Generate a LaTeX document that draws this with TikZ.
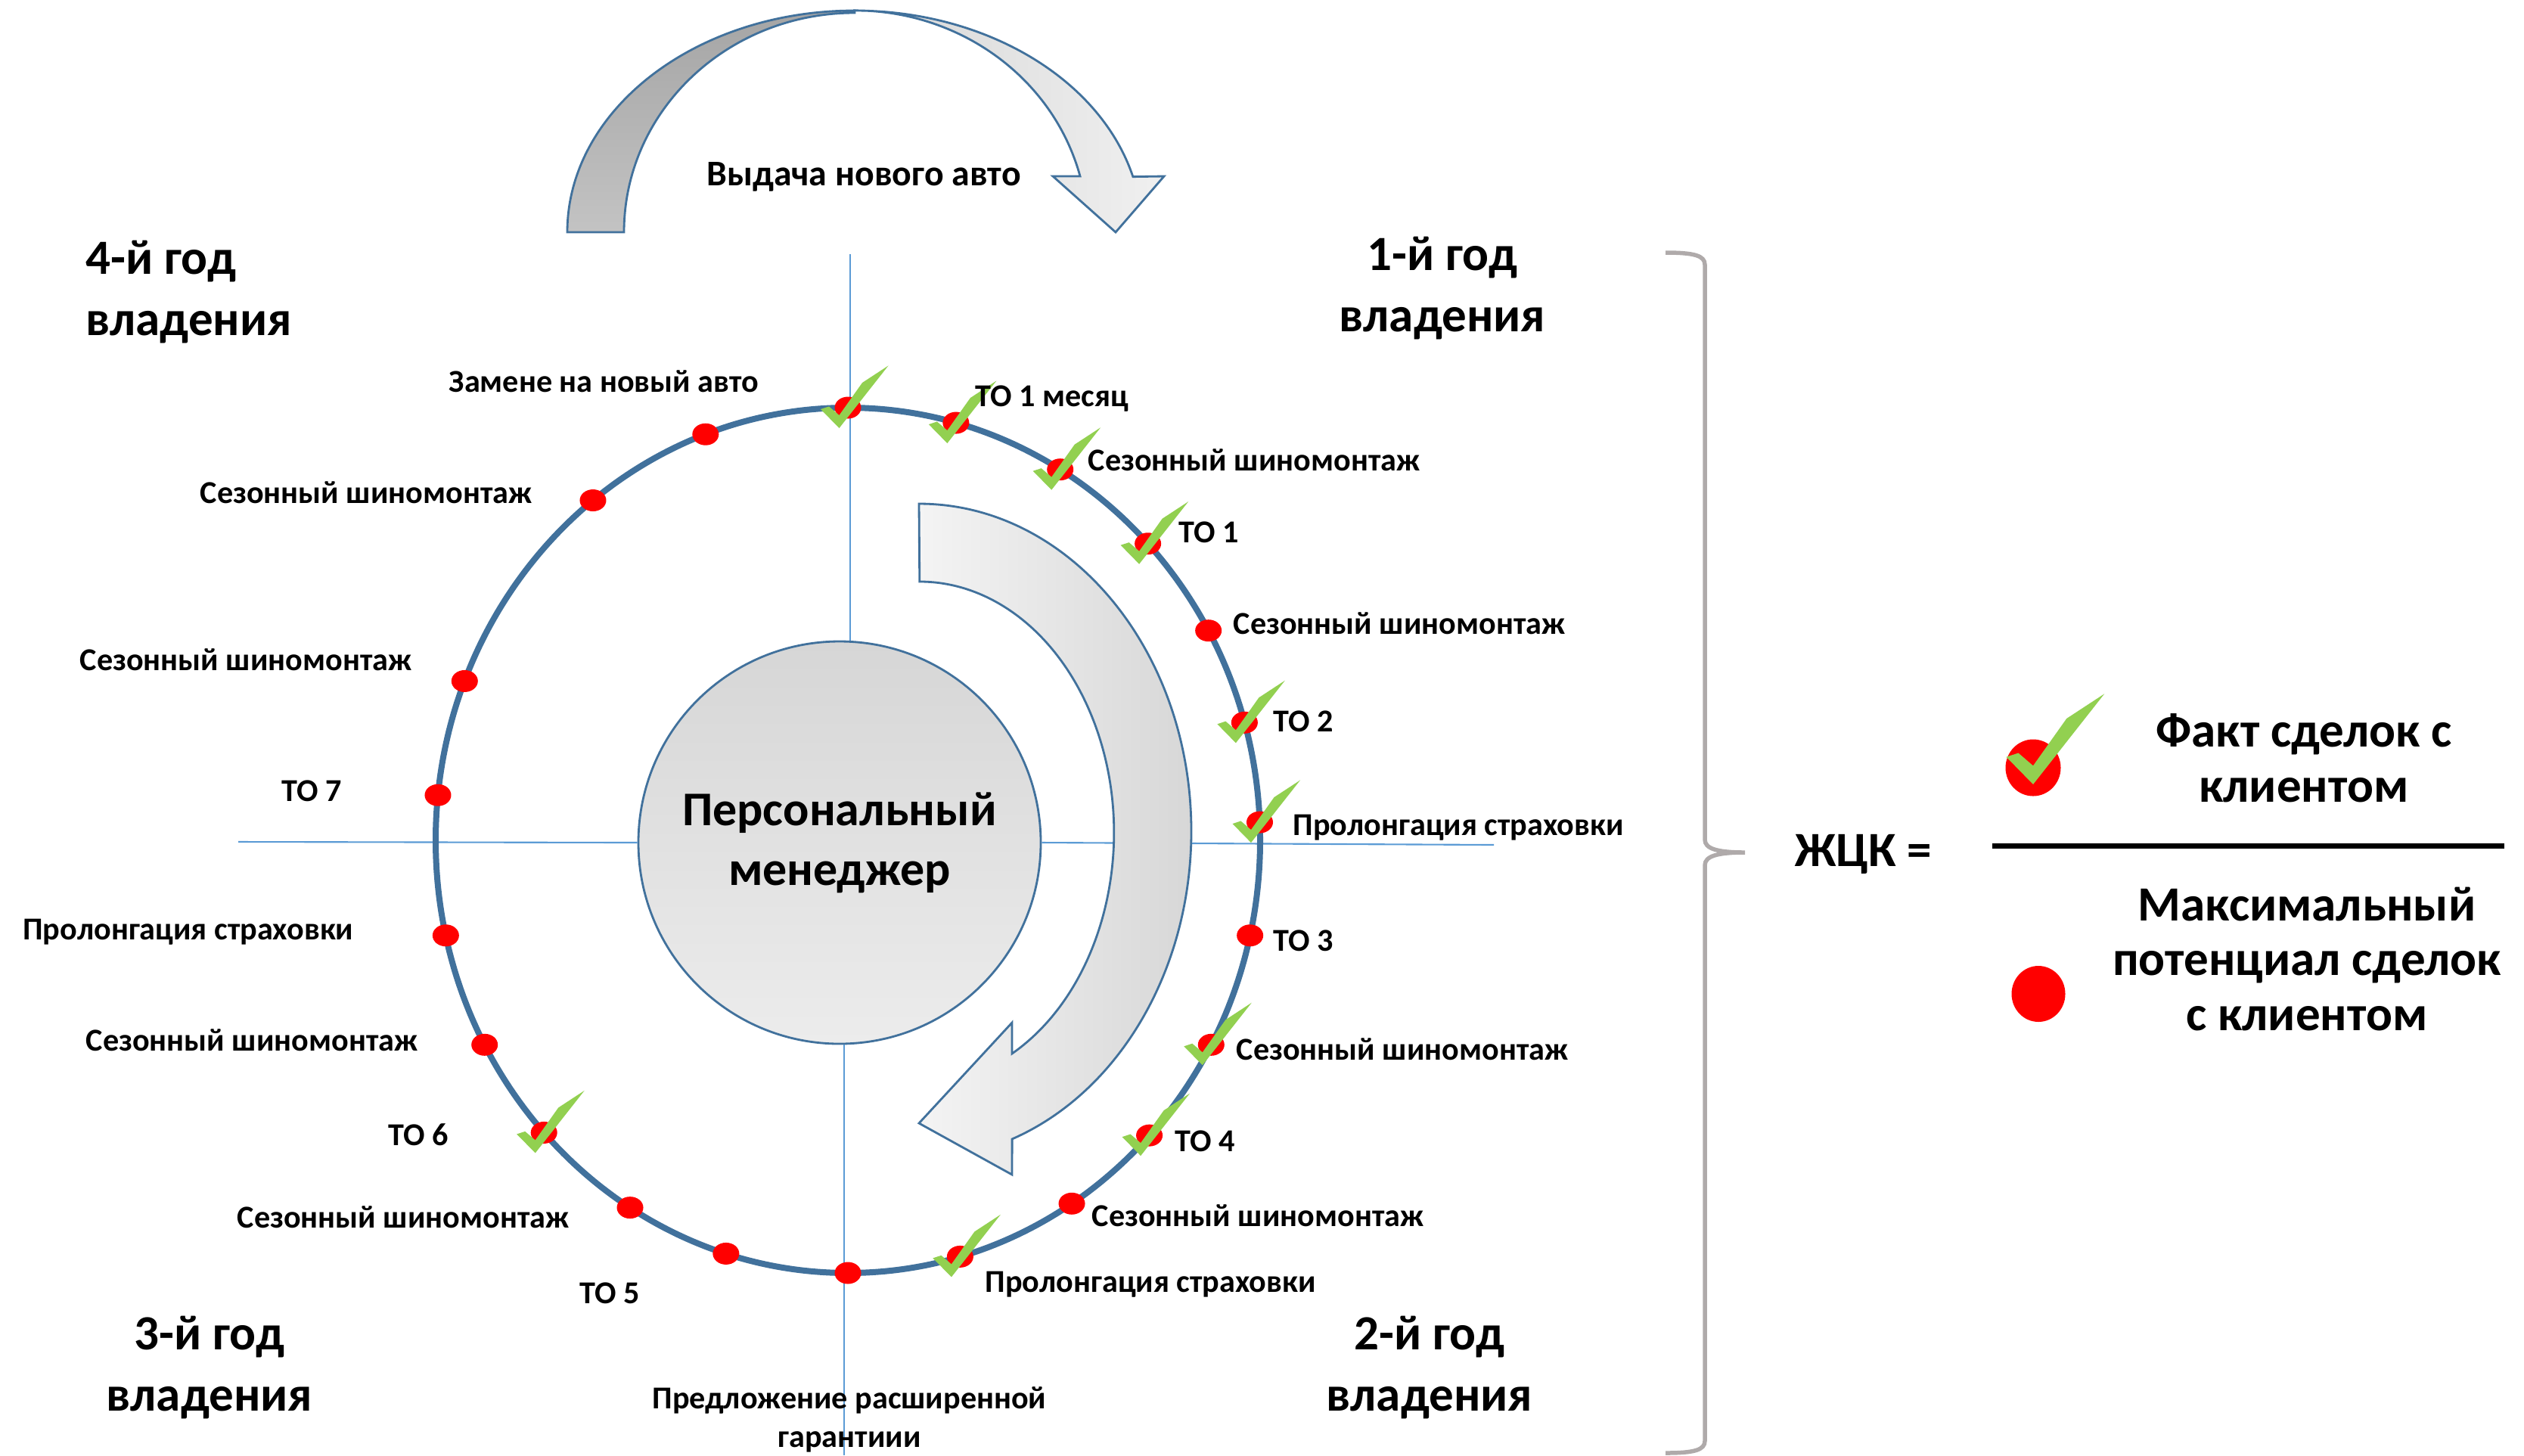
\documentclass[tikz,border=0pt]{standalone}
\usepackage{fontspec}
\setmainfont{Carlito}
\usetikzlibrary{shapes.geometric}

\definecolor{ringblue}{RGB}{65,113,156}
\definecolor{guideblue}{RGB}{91,155,213}
\definecolor{okgreen}{RGB}{146,208,80}
\definecolor{bracegray}{RGB}{175,170,170}

\tikzset{
  dealdot/.style={ellipse, fill=red, minimum width=0.35cm, minimum height=0.29cm, inner sep=0},
  evlabel/.style={font=\fontsize{12}{14.5}\selectfont\bfseries, inner sep=0},
  yearlabel/.style={font=\fontsize{18.5}{22.8}\selectfont\bfseries, inner sep=0},
  legendtext/.style={font=\fontsize{18.5}{20.5}\selectfont\bfseries, inner sep=0, align=center},
  guide/.style={guideblue, line width=0.6pt},
  shapeline/.style={draw=ringblue, line width=0.8pt},
  chk/.pic={\fill[okgreen] (-0.245,0.25) -- (0,0) -- (0.65,0.826) -- (0.305,0.60) -- (0,0.17) -- (-0.135,0.286) -- cycle;}
}

\begin{document}
\begin{tikzpicture}
\useasboundingbox (0,0) rectangle (33.37,-19.24);

% new car arrow on top
\path[shapeline, top color={rgb,255:red,165;green,165;blue,165}, bottom color={rgb,255:red,195;green,195;blue,195}]
  (7.50,-3.07) arc[start angle=180, end angle=90, x radius=3.80, y radius=2.93]
  -- (11.30,-0.17) arc[start angle=90, end angle=180, x radius=3.05, y radius=2.90] -- cycle;
\path[shapeline, left color={rgb,255:red,214;green,214;blue,214}, right color={rgb,255:red,240;green,240;blue,240}]
  (11.30,-0.14) arc[start angle=90, end angle=14.5, x radius=3.80, y radius=2.93]
  -- (15.39,-2.33) -- (14.75,-3.07) -- (13.92,-2.33) -- (14.28,-2.33)
  arc[start angle=14.6, end angle=90, x radius=3.08, y radius=2.93] -- cycle;
\node[evlabel, font=\fontsize{13.6}{16}\selectfont\bfseries, anchor=base] (issue) at (11.42,-2.45) {Выдача нового авто};

% manager in the middle
\node[circle, shapeline, top color={rgb,255:red,214;green,214;blue,214}, bottom color={rgb,255:red,236;green,236;blue,236},
  minimum size=5.32cm, inner sep=0, align=center, font=\fontsize{18.2}{22.5}\selectfont\bfseries] (pm) at (11.10,-11.14) {Персональный\\менеджер};

\coordinate (vtop) at (11.24,-3.36);
\coordinate (vbot) at (11.16,-19.24);
\coordinate (hleft) at (3.15,-11.13);
\coordinate (hright) at (19.75,-11.17);
\draw[guide] (vtop) -- (vtop |- pm.north);
\draw[guide] (vbot |- pm.south) -- (vbot);
\draw[guide] (hleft) -- (pm.west);
\draw[guide] (pm.east) -- (hright);

% inner arrow
\path[shapeline, left color={rgb,255:red,244;green,244;blue,244}, right color={rgb,255:red,215;green,215;blue,215}]
  (12.15,-6.66) arc[start angle=90, end angle=-70, x radius=3.60, y radius=4.33]
  -- (13.38,-15.53) -- (12.15,-14.85) -- (13.38,-13.52) -- (13.38,-13.93)
  arc[start angle=-61.6, end angle=90, x radius=2.57, y radius=3.32] -- cycle;

% ring with the deals
\begin{scope}[shift={(11.21,-11.11)}]
\draw[ringblue, line width=0.08cm] (0,0) ellipse [x radius=5.45, y radius=5.72];
\foreach \a [count=\n] in {90, 74.8, 59, 43.3, 29, 15.8, 2.4, -12.7, -28.2, -43, -57.1,
    -74.2, -90, -107.2, -121.9, -137.5, -151.8, -167.3, 174, 158.4, 128.2, 110.2}
  \node[dealdot] (d\n) at (\a:5.45 and 5.72) {};
\end{scope}
\foreach \n in {1,2,3,4,6,7,9,10,12,16}
  \pic at ([shift={(-0.115,-0.27)}]d\n.center) {chk};

\node[evlabel, anchor=base east] (l1) at (10.04,-5.18) {Замене на новый авто};
\node[evlabel, anchor=base west] (l2) at (12.89,-5.37) {ТО 1 месяц};
\node[evlabel, anchor=base west] (l3) at (14.38,-6.22) {Сезонный шиномонтаж};
\node[evlabel, anchor=base west] (l4) at (15.58,-7.17) {ТО 1};
\node[evlabel, anchor=base west] (l5) at (16.30,-8.38) {Сезонный шиномонтаж};
\node[evlabel, anchor=base west] (l6) at (16.83,-9.67) {ТО 2};
\node[evlabel, anchor=base west] (l7) at (17.09,-11.04) {Пролонгация страховки};
\node[evlabel, anchor=base west] (l8) at (16.83,-12.57) {ТО 3};
\node[evlabel, anchor=base west] (l9) at (16.34,-14.01) {Сезонный шиномонтаж};
\node[evlabel, anchor=base west] (l10) at (15.53,-15.22) {ТО 4};
\node[evlabel, anchor=base west] (l11) at (14.43,-16.21) {Сезонный шиномонтаж};
\node[evlabel, anchor=base west] (l12) at (13.02,-17.08) {Пролонгация страховки};
\node[evlabel, anchor=base, align=center] (l13) at (11.23,-19.13) {Предложение расширенной\\гарантиии};
\node[evlabel, anchor=base west] (l14) at (7.66,-17.23) {ТО 5};
\node[evlabel, anchor=base east] (l15) at (7.53,-16.23) {Сезонный шиномонтаж};
\node[evlabel, anchor=base west] (l16) at (5.13,-15.14) {ТО 6};
\node[evlabel, anchor=base east] (l17) at (5.53,-13.89) {Сезонный шиномонтаж};
\node[evlabel, anchor=base east] (l18) at (4.68,-12.42) {Пролонгация страховки};
\node[evlabel, anchor=base west] (l19) at (3.72,-10.59) {ТО 7};
\node[evlabel, anchor=base east] (l20) at (5.45,-8.86) {Сезонный шиномонтаж};
\node[evlabel, anchor=base east] (l21) at (7.04,-6.65) {Сезонный шиномонтаж};

% years
\node[yearlabel, anchor=base west, align=left] (y4) at (1.13,-4.43) {4-й год\\владения};
\node[yearlabel, anchor=base, align=center] (y1) at (19.07,-4.38) {1-й год\\владения};
\node[yearlabel, anchor=base, align=center] (y3) at (2.77,-18.65) {3-й год\\владения};
\node[yearlabel, anchor=base, align=center] (y2) at (18.90,-18.65) {2-й год\\владения};

% brace
\draw[bracegray, line width=0.055cm] (22.02,-3.34) .. controls (22.40,-3.34) and (22.54,-3.38) .. (22.54,-3.50)
  -- (22.54,-11.10) .. controls (22.54,-11.22) and (22.70,-11.27) .. (23.07,-11.27)
  .. controls (22.70,-11.27) and (22.54,-11.32) .. (22.54,-11.44)
  -- (22.54,-19.05) .. controls (22.54,-19.17) and (22.40,-19.21) .. (22.02,-19.21);

% formula
\node[yearlabel, anchor=base west] (jck) at (23.73,-11.45) {ЖЦК =};
\node[dealdot, minimum width=0.73cm, minimum height=0.75cm] (lg1) at (26.88,-10.15) {};
\pic[scale=1.45] at ([shift={(0,-0.22)}]lg1.center) {chk};
\node[legendtext, anchor=base] (fact) at (30.46,-10.60) {Факт сделок с\\клиентом};
\coordinate (fracL) at (26.34,-11.18);
\coordinate (fracR) at (33.11,-11.18);
\draw[line width=2pt] (fracL) -- (fracR);
\node[legendtext, anchor=base] (maxp) at (30.50,-13.62) {Максимальный\\потенциал сделок\\с клиентом};
\node[dealdot, minimum width=0.71cm, minimum height=0.74cm] (lg2) at (26.95,-13.14) {};
\end{tikzpicture}
\end{document}
